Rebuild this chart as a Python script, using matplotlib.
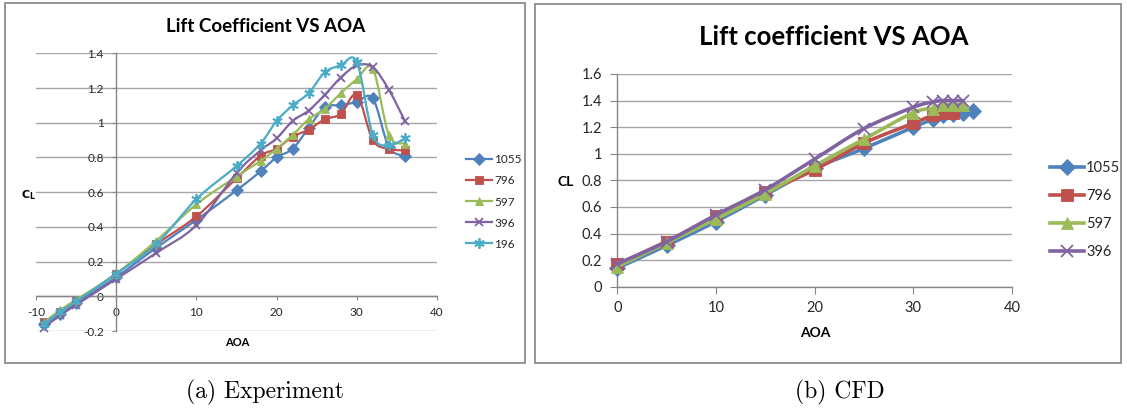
import numpy as np
import matplotlib
matplotlib.use("Agg")
import matplotlib.pyplot as plt
from matplotlib.path import Path
from matplotlib.patches import PathPatch, Rectangle
from matplotlib.lines import Line2D

# ---------------- data ----------------
exp_aoa = [-9, -7, -5, 0, 5, 10, 15, 18, 20, 22, 24, 26, 28, 30, 32, 34, 36]
exp_1055 = [-0.16, -0.10, -0.04, 0.11, 0.28, 0.44, 0.61, 0.72, 0.80, 0.85, 0.97, 1.09, 1.10, 1.12, 1.14, 0.86, 0.81]
exp_796 = [-0.15, -0.09, -0.03, 0.13, 0.30, 0.46, 0.68, 0.81, 0.85, 0.92, 0.96, 1.02, 1.05, 1.16, 0.90, 0.85, 0.84]
exp_597 = [-0.15, -0.08, -0.02, 0.13, 0.32, 0.53, 0.69, 0.78, 0.85, 0.93, 1.02, 1.08, 1.17, 1.25, 1.31, 0.93, 0.88]
exp_396 = [-0.18, -0.11, -0.05, 0.10, 0.25, 0.41, 0.71, 0.84, 0.91, 1.01, 1.07, 1.16, 1.26, 1.33, 1.32, 1.19, 1.01]
exp_196 = [-0.16, -0.09, -0.03, 0.13, 0.30, 0.56, 0.75, 0.88, 1.01, 1.10, 1.17, 1.29, 1.33, 1.35, 0.93, 0.87, 0.91]

cfd_aoa_1055 = [0, 5, 10, 15, 20, 25, 30, 32, 33, 34, 35, 36]
cfd_1055 = [0.14, 0.31, 0.49, 0.69, 0.89, 1.04, 1.20, 1.26, 1.29, 1.30, 1.31, 1.32]
cfd_aoa_796 = [0, 5, 10, 15, 20, 25, 30, 32, 33, 34]
cfd_796 = [0.17, 0.34, 0.53, 0.71, 0.88, 1.08, 1.23, 1.29, 1.31, 1.31]
cfd_aoa_597 = [0, 5, 10, 15, 20, 25, 30, 32, 33, 34, 35]
cfd_597 = [0.15, 0.33, 0.51, 0.70, 0.91, 1.11, 1.31, 1.34, 1.37, 1.37, 1.37]
cfd_aoa_396 = [0, 5, 10, 15, 20, 25, 30, 32, 33, 34, 35]
cfd_396 = [0.17, 0.34, 0.54, 0.73, 0.96, 1.19, 1.35, 1.39, 1.40, 1.40, 1.40]

exp_labels = ["1055", "796", "597", "396", "196"]
cfd_labels = ["1055", "796", "597", "396"]
exp_xticks = [-10, 0, 10, 20, 30, 40]
exp_yticks = [-0.2, 0, 0.2, 0.4, 0.6, 0.8, 1.0, 1.2, 1.4]
cfd_xticks = [0, 10, 20, 30, 40]
cfd_yticks = [0, 0.2, 0.4, 0.6, 0.8, 1.0, 1.2, 1.4, 1.6]

# ---------------- style ----------------
colors = ["#4F81BD", "#C0504D", "#9BBB59", "#8064A2", "#4BACC6"]
markers = ["D", "s", "^", "x", (6, 2, 0)]
FONT = "Lato"
plt.rcParams["font.family"] = [FONT, "DejaVu Sans"]
plt.rcParams["axes.unicode_minus"] = False
GRID = "#a6a6a6"
SPINE = "#868686"
TXT = "#262626"

W, H = 1127, 408
fig = plt.figure(figsize=(W / 100, H / 100), dpi=100)


def fx(px):
    return px / W


def fy(py):
    return 1 - py / H


def smooth_path(x, y):
    pts = np.column_stack([x, y]).astype(float)
    n = len(pts)
    verts = [pts[0]]
    codes = [Path.MOVETO]
    for i in range(n - 1):
        p0 = pts[i - 1] if i > 0 else pts[i]
        p1 = pts[i]
        p2 = pts[i + 1]
        p3 = pts[i + 2] if i + 2 < n else pts[i + 1]
        c1 = p1 + (p2 - p0) / 6.0
        c2 = p2 - (p3 - p1) / 6.0
        verts += [c1, c2, p2]
        codes += [Path.CURVE4] * 3
    return Path(verts, codes)


def series(ax, x, y, color, marker, lw, ms, z):
    ax.add_patch(PathPatch(smooth_path(x, y), fill=False, edgecolor=color, lw=lw,
                           capstyle="round", joinstyle="round", zorder=z))
    mew = 1.3 if marker in ("x",) or isinstance(marker, tuple) else 0.6
    ax.plot(x, y, linestyle="none", marker=marker, color=color, ms=ms, mew=mew,
            mec=color, mfc=color, zorder=z + 0.1, clip_on=False)


# frames
fig.patches.append(Rectangle((fx(5), fy(363)), fx(520), 360 / H, transform=fig.transFigure,
                             fill=False, edgecolor="#8c8c8c", lw=1.3))
fig.patches.append(Rectangle((fx(535), fy(363)), fx(586), 359 / H, transform=fig.transFigure,
                             fill=False, edgecolor="#8c8c8c", lw=1.3))

# ---------------- left: experiment ----------------
ax1 = fig.add_axes([fx(36), fy(331), fx(401), (331 - 53.3) / H])
ax1.set_xlim(-10, 40)
ax1.set_ylim(-0.2, 1.4)
ax1.set_facecolor("none")
for s in ["top", "right"]:
    ax1.spines[s].set_visible(False)
ax1.spines["left"].set_position(("data", 0))
ax1.spines["bottom"].set_position(("data", 0))
for s in ["left", "bottom"]:
    ax1.spines[s].set_color(SPINE)
    ax1.spines[s].set_linewidth(1.0)
ax1.set_xticks(exp_xticks)
ax1.set_yticks(exp_yticks)
ax1.set_yticklabels(["%g" % v for v in exp_yticks])
ax1.tick_params(axis="both", labelsize=8.5, colors=SPINE, labelcolor=TXT, length=3, width=0.8)
ax1.tick_params(axis="x", pad=5)
ax1.tick_params(axis="y", pad=6)
ax1.grid(axis="y", color=GRID, lw=1.0)
ax1.set_axisbelow(True)
exp_series = [exp_1055, exp_796, exp_597, exp_396, exp_196]
for i, ys in enumerate(exp_series):
    series(ax1, exp_aoa, ys, colors[i], markers[i], 1.6, 6 if i != 4 else 7.5, 3 + i)

h1 = [Line2D([], [], color=colors[i], marker=markers[i], lw=1.6, ms=6 if i != 4 else 7.5,
             mew=1.3 if i >= 3 else 0.6) for i in range(5)]
fig.legend(h1, exp_labels, loc="center left", bbox_to_anchor=(fx(460), fy(202)), frameon=False,
           fontsize=8.5, handlelength=2.2, handletextpad=0.2, labelspacing=0.85, borderpad=0,
           labelcolor=TXT)

fig.text(fx(266), fy(26), "Lift Coefficient VS AOA", ha="center", va="center",
         fontsize=13.5, fontweight="bold", color="black")
fig.text(fx(28), fy(195), r"$\mathbf{C}_{\mathbf{L}}$", ha="center", va="center",
         fontsize=8, color="black")
fig.text(fx(237), fy(342), "AOA", ha="center", va="center", fontsize=8,
         fontweight="bold", color="black")

# ---------------- right: CFD ----------------
ax2 = fig.add_axes([fx(617.3), fy(286.7), fx(394.7), (286.7 - 74) / H])
ax2.set_xlim(0, 40)
ax2.set_ylim(0, 1.6)
ax2.set_facecolor("none")
for s in ["top", "right"]:
    ax2.spines[s].set_visible(False)
for s in ["left", "bottom"]:
    ax2.spines[s].set_color(SPINE)
    ax2.spines[s].set_linewidth(1.0)
ax2.set_xticks(cfd_xticks)
ax2.set_yticks(cfd_yticks)
ax2.set_yticklabels(["%g" % v for v in cfd_yticks])
ax2.tick_params(axis="both", labelsize=10.5, colors=SPINE, labelcolor=TXT, length=5, width=0.8)
ax2.tick_params(axis="x", pad=5)
ax2.tick_params(axis="y", pad=6)
ax2.grid(axis="y", color=GRID, lw=1.0)
ax2.set_axisbelow(True)
cfd_x = [cfd_aoa_1055, cfd_aoa_796, cfd_aoa_597, cfd_aoa_396]
cfd_y = [cfd_1055, cfd_796, cfd_597, cfd_396]
for i in range(4):
    series(ax2, cfd_x[i], cfd_y[i], colors[i], markers[i], 2.6, 8, 3 + i)

h2 = [Line2D([], [], color=colors[i], marker=markers[i], lw=2.6, ms=8,
             mew=1.3 if i >= 3 else 0.6) for i in range(4)]
fig.legend(h2, cfd_labels, loc="center left", bbox_to_anchor=(fx(1043), fy(210)), frameon=False,
           fontsize=10.5, handlelength=2.3, handletextpad=0.15, labelspacing=0.95, borderpad=0,
           labelcolor=TXT)

fig.text(fx(834), fy(37), "Lift coefficient VS AOA", ha="center", va="center",
         fontsize=18.5, fontweight="bold", color="black")
fig.text(fx(566), fy(182), "CL", ha="center", va="center", fontsize=10,
         fontweight="bold", color="black")
fig.text(fx(815), fy(333), "AOA", ha="center", va="center", fontsize=10,
         fontweight="bold", color="black")

# captions
fig.text(fx(265), fy(392), "(a) Experiment", ha="center", va="center", fontsize=17,
         family="cmr10", color="black")
fig.text(fx(840), fy(392), "(b) CFD", ha="center", va="center", fontsize=17,
         family="cmr10", color="black")

fig.savefig("out.png", dpi=100, facecolor="white")
